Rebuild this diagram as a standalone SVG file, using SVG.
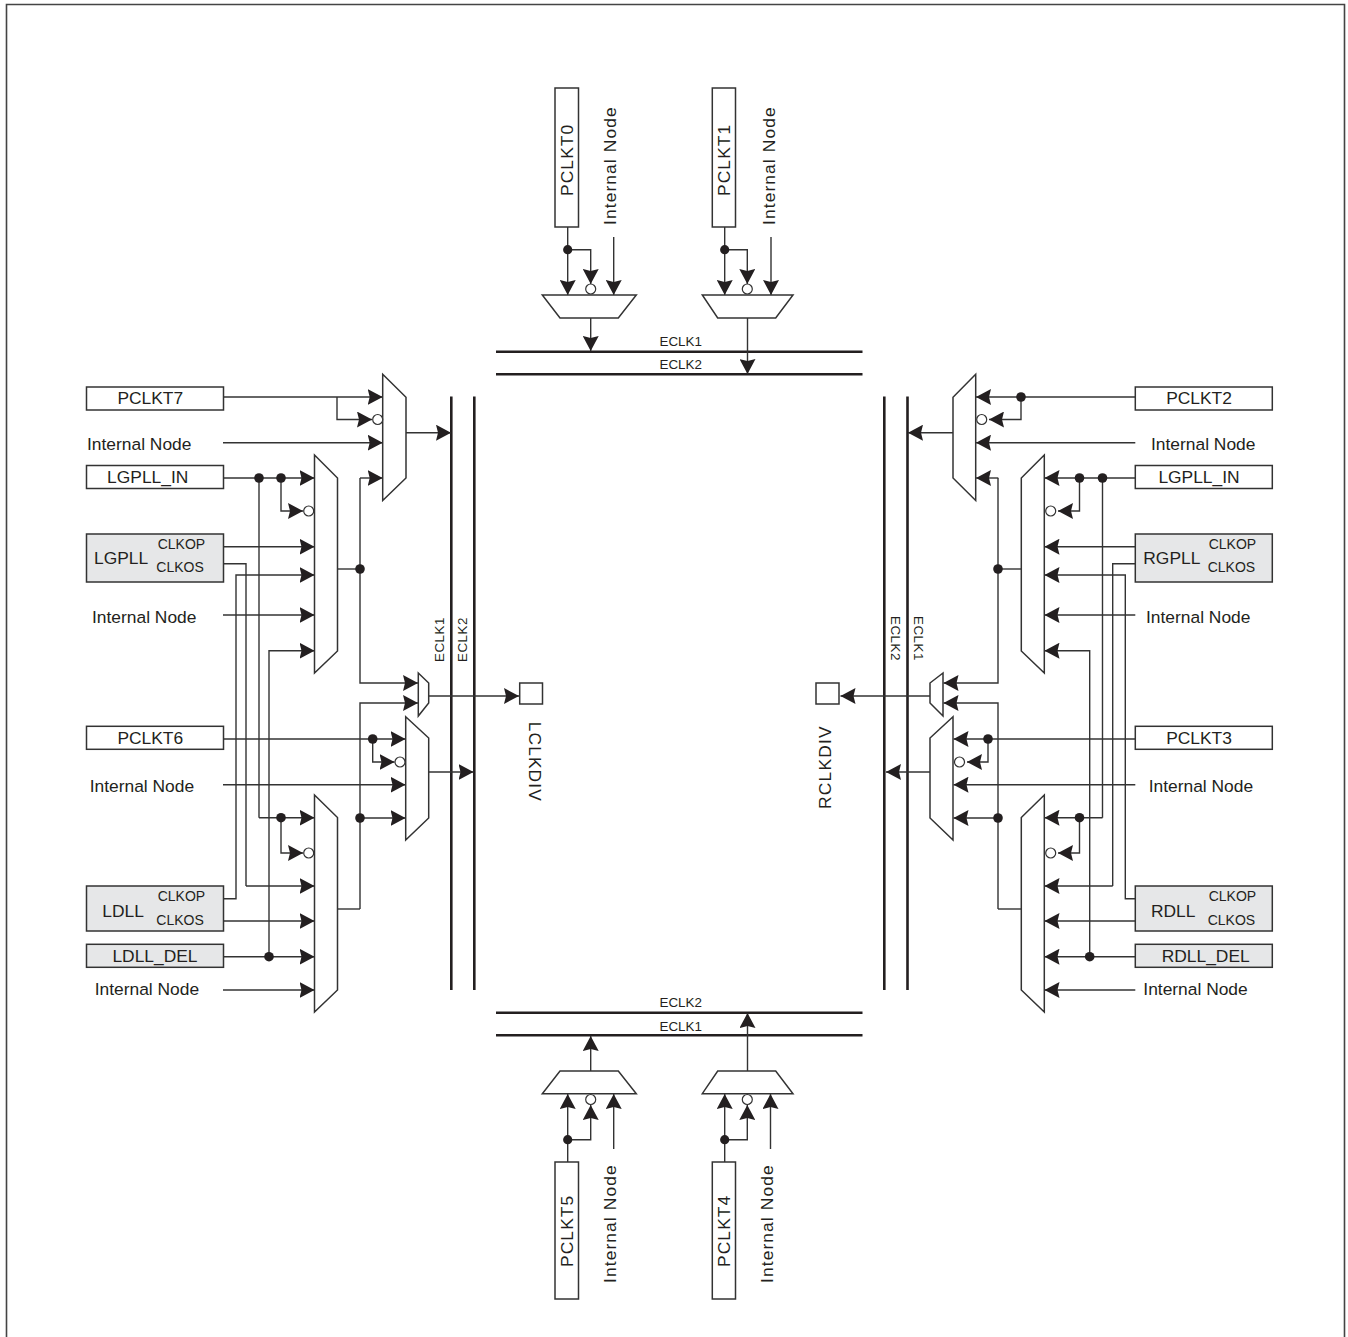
<svg xmlns="http://www.w3.org/2000/svg" width="1348" height="1337" viewBox="0 0 1348 1337">
<style>
text{font-family:"Liberation Sans",Arial,sans-serif;font-size:17.4px;fill:#231f20}
.c{text-anchor:middle}
.s{font-size:14px}
.e{font-size:13.4px}
.v{letter-spacing:1.1px}
.b{fill:#fff;stroke:#333;stroke-width:1.5}
.g{fill:#e6e7e8;stroke:#333;stroke-width:1.5}
.m{fill:#fff;stroke:#333;stroke-width:1.5;stroke-linejoin:miter}
.l{fill:none;stroke:#333;stroke-width:1.4}
.a{fill:none;stroke:#333;stroke-width:1.4;marker-end:url(#ah)}
.bus{fill:none;stroke:#231f20;stroke-width:2.6}
.d{fill:#231f20}
.i{fill:#fff;stroke:#333;stroke-width:1.2}
</style>
<defs>
<marker id="ah" markerUnits="userSpaceOnUse" markerWidth="16" markerHeight="16" refX="15" refY="8" orient="auto" viewBox="0 0 16 16">
<path d="M15,8 L0,0 L2,8 L0,16 Z" fill="#231f20"/>
</marker>
</defs>
<path id="frame" d="M6.5,1337 V4.5 H1344.5 V1337" fill="none" stroke="#444" stroke-width="1.6"/>
<g id="connectors">
<path class="bus" d="M496,351.7 H862.5 M496,374.2 H862.5 M496,1012.7 H862.5 M496,1035.3 H862.5 M451.3,396.5 V990 M474.3,396.5 V990 M884.3,396.5 V990 M907.5,396.5 V990"/>
<path class="a" d="M567.7,227 V295"/><path class="a" d="M567.7,249.7 H590.7 V284"/><path class="a" d="M613.7,237 V295"/><path class="a" d="M590.7,318 V351"/>
<path class="a" d="M724.7,227 V295"/><path class="a" d="M724.7,249.7 H747.3 V284"/><path class="a" d="M771,237 V295"/><path class="a" d="M747.5,318 V374"/>
<path class="a" d="M567.7,1162 V1094"/><path class="a" d="M567.7,1139.7 H590.7 V1105"/><path class="a" d="M613.7,1149 V1094"/><path class="a" d="M590.7,1071 V1036"/>
<path class="a" d="M724.7,1162 V1094"/><path class="a" d="M724.7,1139.7 H747.3 V1105"/><path class="a" d="M770.5,1149 V1094"/><path class="a" d="M747.5,1071 V1013"/>
<path class="a" d="M223.5,397 H382.7"/><path class="a" d="M337,397 V419.5 H372"/><path class="a" d="M223,442.7 H382.7"/><path class="a" d="M360,478 H382.7"/><path class="a" d="M406,432.7 H451"/>
<path class="a" d="M223.5,478 H314.5"/><path class="a" d="M281,478 V511 H303"/><path class="a" d="M223.5,546.7 H314.5"/><path class="l" d="M223.5,563.7 H246 V886"/><path class="a" d="M246,886 H314.5"/><path class="a" d="M223.5,898.7 H236 V575 H314.5"/><path class="a" d="M223,615 H314.5"/><path class="a" d="M269,957 V650.7 H314.5"/>
<path class="l" d="M259,478 V817.7"/><path class="a" d="M259,817.7 H314.5"/><path class="a" d="M281,817.7 V853 H303"/><path class="a" d="M223.5,921 H314.5"/><path class="a" d="M223.5,956.7 H314.5"/><path class="a" d="M223,990 H314.5"/>
<path class="l" d="M337.5,569 H360"/><path class="a" d="M360,478 V683 H418"/><path class="l" d="M337.5,909 H360"/><path class="a" d="M360,909 V703 H418"/><path class="a" d="M360,818 H405.5"/>
<path class="a" d="M223.5,739 H405.5"/><path class="a" d="M372.7,739 V762 H394.5"/><path class="a" d="M223,784.7 H405.5"/><path class="a" d="M428.7,772 H473.5"/><path class="a" d="M428.7,696 H519"/>
<path class="a" d="M1135.3,397 H976"/><path class="a" d="M1021,397 V419.5 H989"/><path class="a" d="M1135.3,442.7 H976"/><path class="a" d="M998.3,478 H976"/><path class="a" d="M953,432.7 H908"/>
<path class="a" d="M1135.3,478 H1044.5"/><path class="a" d="M1079.5,478 V511 H1058"/><path class="a" d="M1135.3,546.7 H1044.5"/><path class="l" d="M1135.3,563.7 H1112.7 V886"/><path class="a" d="M1112.7,886 H1044.5"/><path class="a" d="M1135.3,898.7 H1125.3 V575 H1044.5"/><path class="a" d="M1135.3,615 H1044.5"/><path class="a" d="M1089.7,957 V650.7 H1044.5"/>
<path class="l" d="M1102.5,478 V817.7"/><path class="a" d="M1102.5,817.7 H1044.5"/><path class="a" d="M1079.5,817.7 V853 H1058"/><path class="a" d="M1135.3,921 H1044.5"/><path class="a" d="M1135.3,956.7 H1044.5"/><path class="a" d="M1135.3,990 H1044.5"/>
<path class="l" d="M1021.3,569 H998"/><path class="a" d="M998,478 V683 H943.5"/><path class="l" d="M1021.3,909 H998"/><path class="a" d="M998,909 V703 H943.5"/><path class="a" d="M998,818 H953.5"/>
<path class="a" d="M1135.3,739 H953.5"/><path class="a" d="M988,739 V762 H967"/><path class="a" d="M1135.3,784.7 H953.5"/><path class="a" d="M930,772 H886"/><path class="a" d="M930,696 H840.5"/>
<g class="d">
<circle cx="567.7" cy="249.7" r="4.6"/><circle cx="724.7" cy="249.7" r="4.6"/><circle cx="567.7" cy="1139.7" r="4.6"/><circle cx="724.7" cy="1139.7" r="4.6"/>
<circle cx="259" cy="478" r="4.8"/><circle cx="281" cy="478" r="4.8"/><circle cx="281" cy="817.7" r="4.8"/><circle cx="269" cy="956.7" r="4.8"/><circle cx="360" cy="569" r="4.8"/><circle cx="360" cy="818" r="4.8"/><circle cx="372.7" cy="739" r="4.8"/>
<circle cx="1102.5" cy="478" r="4.8"/><circle cx="1079.5" cy="478" r="4.8"/><circle cx="1079.5" cy="817.7" r="4.8"/><circle cx="1089.7" cy="956.7" r="4.8"/><circle cx="998" cy="569" r="4.8"/><circle cx="998" cy="818" r="4.8"/><circle cx="988" cy="739" r="4.8"/><circle cx="1021" cy="397" r="4.8"/>
</g>
</g>
<g id="mux-top-0"><path class="m" d="M542.3,295 H636.3 L618.3,318 H560 Z"/><circle class="i" cx="590.7" cy="289" r="5"/></g>
<g id="mux-top-1"><path class="m" d="M702.3,295 H793 L775.7,318 H717.7 Z"/><circle class="i" cx="747.3" cy="289" r="5"/></g>
<g id="mux-bottom-5"><path class="m" d="M542.3,1093.7 H636.3 L618.3,1071 H560 Z"/><circle class="i" cx="590.7" cy="1099.5" r="5"/></g>
<g id="mux-bottom-4"><path class="m" d="M702.3,1093.7 H793 L775.7,1071 H717.7 Z"/><circle class="i" cx="747.3" cy="1099.5" r="5"/></g>
<g id="mux-left-top"><path class="m" d="M382.7,374.3 L406,397.3 V478 L382.7,500.5 Z"/><circle class="i" cx="377.7" cy="419.5" r="5"/></g>
<g id="mux-left-pll"><path class="m" d="M314.5,455 L337.5,478 V651 L314.5,673 Z"/><circle class="i" cx="308.7" cy="511" r="5"/></g>
<g id="mux-left-dll"><path class="m" d="M314.5,795 L337.5,817.5 V990 L314.5,1012 Z"/><circle class="i" cx="308.7" cy="853" r="5"/></g>
<g id="mux-left-small"><path class="m" d="M418.3,673 L428.7,683 V703 L418.3,716 Z"/></g>
<g id="mux-left-mid"><path class="m" d="M405.7,716.7 L428.7,738 V818 L405.7,840 Z"/><circle class="i" cx="400" cy="762" r="5"/></g>
<g id="mux-right-top"><path class="m" d="M975.7,374.3 L953,397.3 V478 L975.7,500.5 Z"/><circle class="i" cx="981.7" cy="419.5" r="5"/></g>
<g id="mux-right-pll"><path class="m" d="M1044.3,455 L1021.3,478 V651 L1044.3,673 Z"/><circle class="i" cx="1050.7" cy="511" r="5"/></g>
<g id="mux-right-dll"><path class="m" d="M1044.3,795 L1021.3,817.5 V990 L1044.3,1012 Z"/><circle class="i" cx="1050.7" cy="853" r="5"/></g>
<g id="mux-right-small"><path class="m" d="M943,673 L930,683 V703 L943,716 Z"/></g>
<g id="mux-right-mid"><path class="m" d="M953,716.7 L930,738 V818 L953,840 Z"/><circle class="i" cx="959.5" cy="762" r="5"/></g>
<g id="PCLKT0"><rect class="b" x="555" y="88" width="23.5" height="139"/><text class="v" transform="translate(572.5,196) rotate(-90)">PCLKT0</text></g>
<g id="PCLKT1"><rect class="b" x="712.3" y="88" width="23.2" height="139"/><text class="v" transform="translate(729.5,196) rotate(-90)">PCLKT1</text></g>
<g id="PCLKT5"><rect class="b" x="555" y="1162" width="23.5" height="137"/><text class="v" transform="translate(572.7,1267) rotate(-90)">PCLKT5</text></g>
<g id="PCLKT4"><rect class="b" x="712.3" y="1162" width="23.2" height="137"/><text class="v" transform="translate(729.5,1267) rotate(-90)">PCLKT4</text></g>
<g id="labels-internal">
<text class="v" transform="translate(616,225) rotate(-90)">Internal Node</text>
<text class="v" transform="translate(775,225) rotate(-90)">Internal Node</text>
<text class="v" transform="translate(616,1283) rotate(-90)">Internal Node</text>
<text class="v" transform="translate(772.7,1283) rotate(-90)">Internal Node</text>
<text x="87" y="450">Internal Node</text><text x="92" y="623">Internal Node</text><text x="89.7" y="792">Internal Node</text><text x="94.7" y="995">Internal Node</text>
<text x="1151" y="450">Internal Node</text><text x="1146" y="623">Internal Node</text><text x="1148.7" y="792">Internal Node</text><text x="1143.3" y="995">Internal Node</text>
</g>
<g id="labels-eclk">
<text class="e c" x="680.7" y="345.7">ECLK1</text><text class="e c" x="680.7" y="369">ECLK2</text>
<text class="e c" x="680.7" y="1007">ECLK2</text><text class="e c" x="680.7" y="1030.7">ECLK1</text>
<text class="e" style="letter-spacing:.5px" transform="translate(444,662) rotate(-90)">ECLK1</text>
<text class="e" style="letter-spacing:.5px" transform="translate(467.3,662) rotate(-90)">ECLK2</text>
<text class="e" style="letter-spacing:.5px" transform="translate(891,616) rotate(90)">ECLK2</text>
<text class="e" style="letter-spacing:.5px" transform="translate(914,616) rotate(90)">ECLK1</text>
</g>
<g id="PCLKT7"><rect class="b" x="86.5" y="387" width="137" height="23"/><text class="c" x="150.3" y="404">PCLKT7</text></g>
<g id="LGPLL_IN-left"><rect class="b" x="86.5" y="465.5" width="137" height="23"/><text class="c" x="147.7" y="483">LGPLL_IN</text></g>
<g id="LGPLL"><rect class="g" x="86.5" y="534" width="137" height="48"/><text x="94" y="564">LGPLL</text><text class="s" x="157.7" y="548.7">CLKOP</text><text class="s" x="156.3" y="572">CLKOS</text></g>
<g id="PCLKT6"><rect class="b" x="86.5" y="726.3" width="137" height="23"/><text class="c" x="150.3" y="744">PCLKT6</text></g>
<g id="LDLL"><rect class="g" x="86.5" y="886" width="137" height="45"/><text x="102.3" y="916.7">LDLL</text><text class="s" x="157.7" y="901">CLKOP</text><text class="s" x="156.3" y="925">CLKOS</text></g>
<g id="LDLL_DEL"><rect class="g" x="86.5" y="944.3" width="137" height="23"/><text class="c" x="155" y="962">LDLL_DEL</text></g>
<g id="PCLKT2"><rect class="b" x="1135.3" y="387" width="137" height="23"/><text class="c" x="1199" y="404">PCLKT2</text></g>
<g id="LGPLL_IN-right"><rect class="b" x="1135.3" y="465.5" width="137" height="23"/><text class="c" x="1199" y="483">LGPLL_IN</text></g>
<g id="RGPLL"><rect class="g" x="1135.3" y="534" width="137" height="48"/><text x="1143.3" y="564">RGPLL</text><text class="s" x="1208.7" y="548.7">CLKOP</text><text class="s" x="1207.7" y="572">CLKOS</text></g>
<g id="PCLKT3"><rect class="b" x="1135.3" y="726.3" width="137" height="23"/><text class="c" x="1199" y="744">PCLKT3</text></g>
<g id="RDLL"><rect class="g" x="1135.3" y="886" width="137" height="45"/><text x="1151" y="916.7">RDLL</text><text class="s" x="1208.7" y="901">CLKOP</text><text class="s" x="1207.7" y="925">CLKOS</text></g>
<g id="RDLL_DEL"><rect class="g" x="1135.3" y="944.3" width="137" height="23"/><text class="c" x="1205.7" y="962">RDLL_DEL</text></g>
<g id="LCLKDIV"><rect class="b" x="519.7" y="683" width="22.8" height="21"/><text style="letter-spacing:1.1px" transform="translate(529.3,721.7) rotate(90)">LCLKDIV</text></g>
<g id="RCLKDIV"><rect class="b" x="816" y="683" width="23" height="21"/><text style="letter-spacing:1.2px" transform="translate(830.7,809) rotate(-90)">RCLKDIV</text></g>
</svg>
